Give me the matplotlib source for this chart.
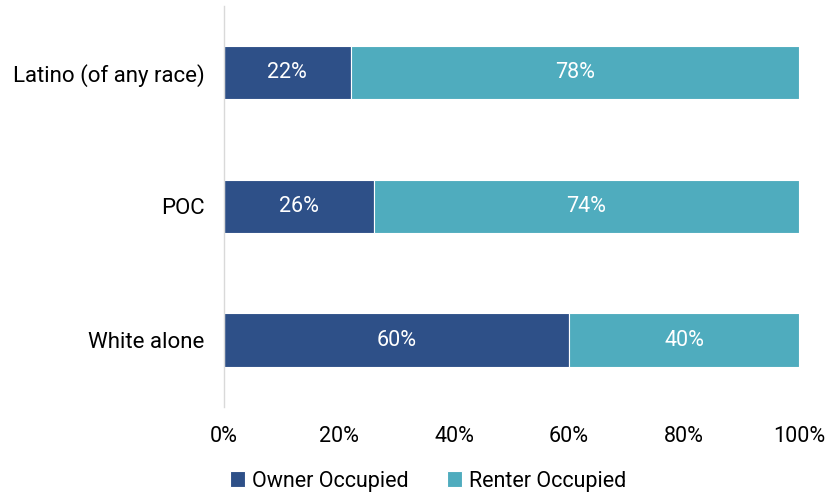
import matplotlib
matplotlib.use("Agg")
import matplotlib.pyplot as plt
from matplotlib.ticker import FuncFormatter

categories = ["White alone", "POC", "Latino (of any race)"]
owner = [60, 26, 22]
renter = [40, 74, 78]
series_names = ["Owner Occupied", "Renter Occupied"]
colors = ["#2E5088", "#4FACBE"]

plt.rcParams['font.family'] = ['Roboto', 'DejaVu Sans']

fig = plt.figure(figsize=(8.38, 4.93), dpi=100)
ax = fig.add_axes([224/838, 1-407/493, (799-224)/838, (407-5.6)/493])

y = range(len(categories))
b1 = ax.barh(y, owner, height=0.4, color=colors[0], edgecolor="white", linewidth=0.8, label=series_names[0])
b2 = ax.barh(y, renter, left=owner, height=0.4, color=colors[1], edgecolor="white", linewidth=0.8, label=series_names[1])

for bars, vals in ((b1, owner), (b2, renter)):
    for bar, v in zip(bars, vals):
        ax.text(bar.get_x() + bar.get_width()/2, bar.get_y() + bar.get_height()/2,
                f"{v}%", ha="center", va="center", color="white", fontsize=15.5)

ax.set_xlim(0, 100)
ax.set_ylim(-0.5, 2.5)
ax.set_yticks(list(y))
ax.set_yticklabels(categories, fontsize=16)
ax.set_xticks([0, 20, 40, 60, 80, 100])
ax.xaxis.set_major_formatter(FuncFormatter(lambda v, p: f"{int(v)}%"))
ax.tick_params(axis='x', labelsize=15.5, length=0, pad=14)
ax.tick_params(axis='y', length=0, pad=14)
for s in ["top", "right", "bottom"]:
    ax.spines[s].set_visible(False)
ax.spines["left"].set_color("#D9D9D9")
ax.spines["left"].set_linewidth(1)

fig.legend(handles=[b1, b2], labels=series_names, loc="center", bbox_to_anchor=(428/838, 1-481/493),
           ncol=2, frameon=False, fontsize=15.5, handlelength=0.7, handleheight=0.7,
           handletextpad=0.3, columnspacing=1.8)

fig.savefig("out.png", dpi=100)
